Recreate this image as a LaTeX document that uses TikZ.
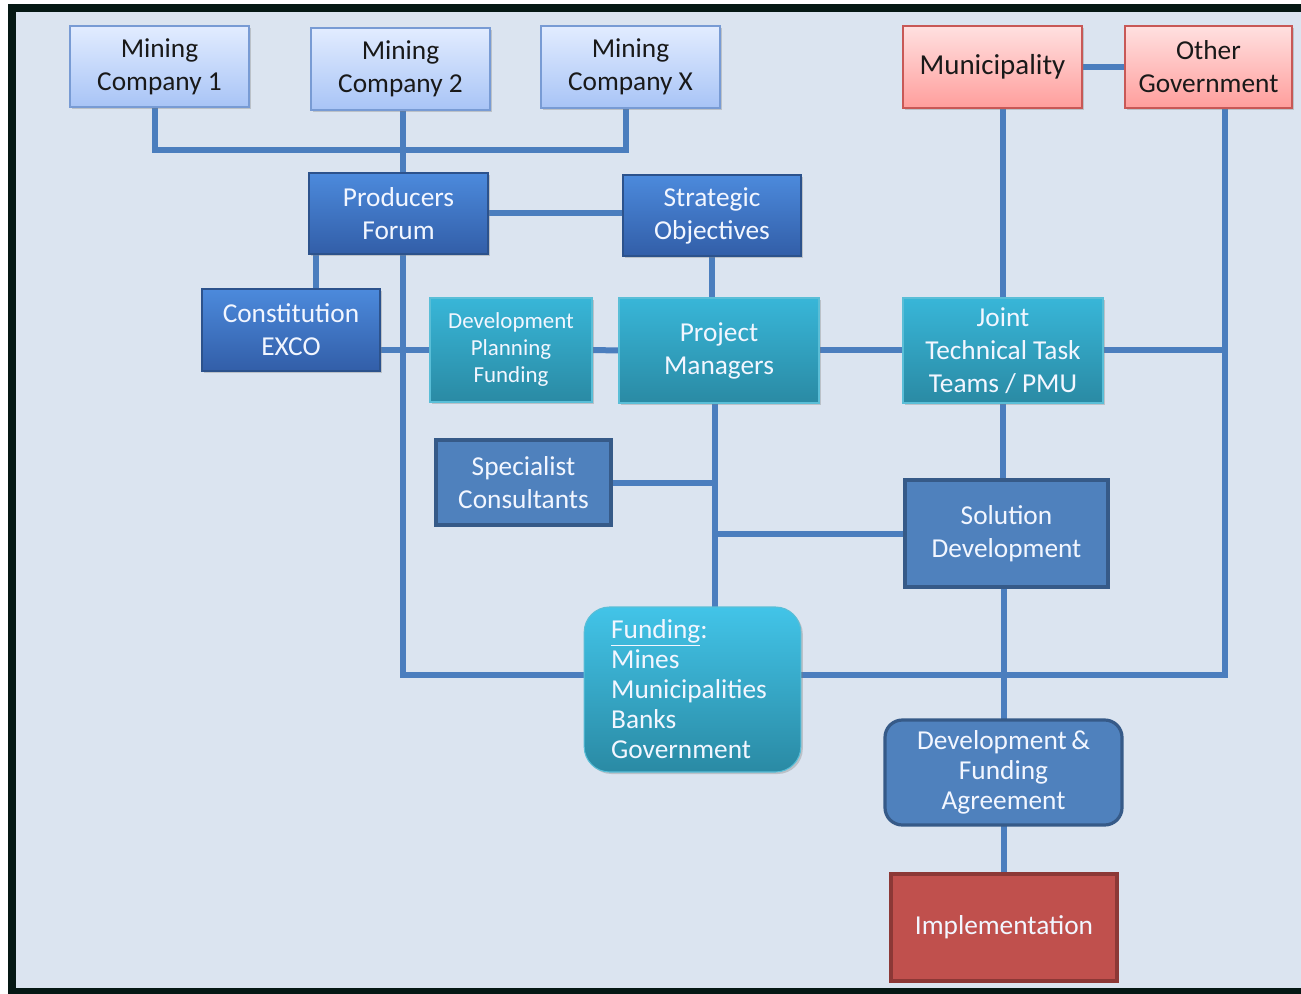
\documentclass[tikz,border=0pt]{standalone}
\usepackage{fontspec}
\setmainfont{Carlito}
\usetikzlibrary{shadows}
\definecolor{bgc}{RGB}{219,228,240}
\definecolor{framec}{RGB}{5,24,20}
\definecolor{connc}{RGB}{75,126,190}
\definecolor{minetop}{RGB}{226,236,255}
\definecolor{minebot}{RGB}{168,196,246}
\definecolor{mineborder}{RGB}{120,155,212}
\definecolor{pinktop}{RGB}{255,224,224}
\definecolor{pinkbot}{RGB}{255,158,156}
\definecolor{pinkborder}{RGB}{200,88,86}
\definecolor{bevtop}{RGB}{76,138,220}
\definecolor{bevbot}{RGB}{50,94,168}
\definecolor{bevborder}{RGB}{44,82,140}
\definecolor{tealtop}{RGB}{56,182,216}
\definecolor{tealbot}{RGB}{42,138,164}
\definecolor{tealborder}{RGB}{90,190,215}
\definecolor{fundtop}{RGB}{66,196,232}
\definecolor{midblue}{RGB}{79,129,189}
\definecolor{midborder}{RGB}{54,90,136}
\definecolor{redfill}{RGB}{192,80,77}
\definecolor{redborder}{RGB}{140,56,54}
\definecolor{lighttext}{RGB}{242,246,255}
\definecolor{darktext}{RGB}{25,25,25}
\pgfdeclarelayer{bottom}
\pgfdeclarelayer{conns}
\pgfsetlayers{bottom,conns,main}
\begin{document}
\begin{tikzpicture}[x=0.75pt,y=-0.75pt,
  sz/.style 2 args={minimum width=#1*0.75pt, minimum height=#2*0.75pt},
  every node/.style={inner sep=0pt, outer sep=0pt, align=center, font=\fontsize{20.5}{24.75}\selectfont},
  shad/.style={drop shadow={opacity=0.35, shadow xshift=1.5pt, shadow yshift=-1.5pt}},
  minebox/.style={shad, top color=minetop, bottom color=minebot, draw=mineborder, line width=1.2pt, text=darktext},
  pinkbox/.style={shad, top color=pinktop, bottom color=pinkbot, draw=pinkborder, line width=1.2pt, text=darktext},
  bevbox/.style={shad, top color=bevtop, bottom color=bevbot, draw=bevborder, line width=0.8pt, text=lighttext},
  tealbox/.style={shad, top color=tealtop, bottom color=tealbot, draw=tealborder, line width=0.8pt, text=lighttext},
  fundbox/.style={shad, top color=fundtop, bottom color=tealbot, draw=tealborder, line width=0.8pt, text=lighttext},
  midbox/.style={fill=midblue, draw=midborder, line width=2.4pt, text=lighttext},
  redbox/.style={fill=redfill, draw=redborder, line width=2.4pt, text=lighttext},
  conn/.style={draw=connc, line width=4.5pt}
]
\useasboundingbox (0,0) rectangle (1301,994);
\begin{pgfonlayer}{bottom}
  \fill[white] (0,0) rectangle (1301,994);
  \fill[framec] (8,4) rectangle (1301,994);
  \fill[bgc] (16,12) rectangle (1301,988);
\end{pgfonlayer}

% nodes
\node[minebox, sz={179}{81}] (mc1) at (159.5,66.5) {Mining\\Company 1};
\node[minebox, sz={179}{82}] (mc2) at (400.5,69) {Mining\\Company 2};
\node[minebox, sz={179}{82}] (mcx) at (630.5,67) {Mining\\Company X};
\node[pinkbox, sz={179}{82}, font=\fontsize{21.7}{24.75}\selectfont] (mu) at (992.5,67) {Municipality};
\node[pinkbox, sz={167}{82}] (og) at (1208.5,67) {Other\\Government};
\node[bevbox, sz={179}{81}] (pf) at (398.5,213.5) {Producers\\Forum};
\node[bevbox, sz={178}{81}] (so) at (712,215.5) {Strategic\\Objectives};
\node[bevbox, sz={178}{82}] (ce) at (291,330) {Constitution\\EXCO};
\node[tealbox, sz={162}{104}, font=\fontsize{17.2}{20.25}\selectfont] (dpf) at (511,350) {Development\\Planning\\Funding};
\node[tealbox, sz={200}{105}] (pm) at (719,350.5) {Project\\Managers};
\node[tealbox, sz={200}{105}] (jt) at (1003,350.5) {Joint\\Technical Task\\Teams / PMU};
\node[midbox, sz={175}{85}] (sc) at (523.5,482.5) {Specialist\\Consultants};
\node[midbox, sz={203}{107}] (sd) at (1006.5,533.5) {Solution\\Development};
\node[fundbox, rounded corners=19pt, align=left, text width=122pt, inner xsep=20.25pt, minimum height=165*0.75pt,
      font=\fontsize{20.5}{22.5}\selectfont] (fb) at (692.5,689.5)
      {\underline{Funding}:\\Mines\\Municipalities\\Banks\\Government};
\node[midbox, rounded corners=13pt, sz={237}{105}, font=\fontsize{20.5}{22.5}\selectfont] (dfa) at (1003.5,772.5) {Development\,\&\\Funding\\Agreement};
\node[redbox, sz={226}{107}] (imp) at (1004,927.5) {Implementation};

% helper coordinates
\coordinate (L) at (403,675);
\coordinate (R) at (1225,675);
\coordinate (V) at (715,0);
\coordinate (K) at (316,0);
\coordinate (B) at (403,150);
\coordinate (A1) at (155,0);
\coordinate (AX) at (626,0);

\begin{pgfonlayer}{conns}
  \draw[conn] (mc1.south -| A1) |- (B) -| (mcx.south -| AX);
  \draw[conn] (mc2.south -| B) -- (pf.north -| B);
  \draw[conn] (pf.east) -- (pf.east -| so.west);
  \draw[conn] (pf.south -| K) -- (ce.north -| K);
  \draw[conn] (pf.south -| L) -- (L) -- (L -| fb.west);
  \draw[conn] (ce.east |- dpf.west) -- (dpf.west);
  \draw[conn] (dpf.east) -- (pm.west);
  \draw[conn] (so.south) -- (so.south |- pm.north);
  \draw[conn] (pm.east) -- (jt.west);
  \draw[conn] (mu.east) -- (og.west);
  \draw[conn] (mu.south -| jt.north) -- (jt.north);
  \draw[conn] (og.south -| R) -- (R) -- (R -| fb.east);
  \draw[conn] (jt.east) -- (jt.east -| R);
  \draw[conn] (jt.south) -- (jt.south |- sd.north);
  \draw[conn] (pm.south -| V) -- (fb.north -| V);
  \draw[conn] (sc.east) -- (sc.east -| V);
  \draw[conn] (sd.west) -- (sd.west -| V);
  \draw[conn] (sd.south -| dfa.north) -- (dfa.north);
  \draw[conn] (dfa.south) -- (dfa.south |- imp.north);
\end{pgfonlayer}
\end{tikzpicture}
\end{document}
